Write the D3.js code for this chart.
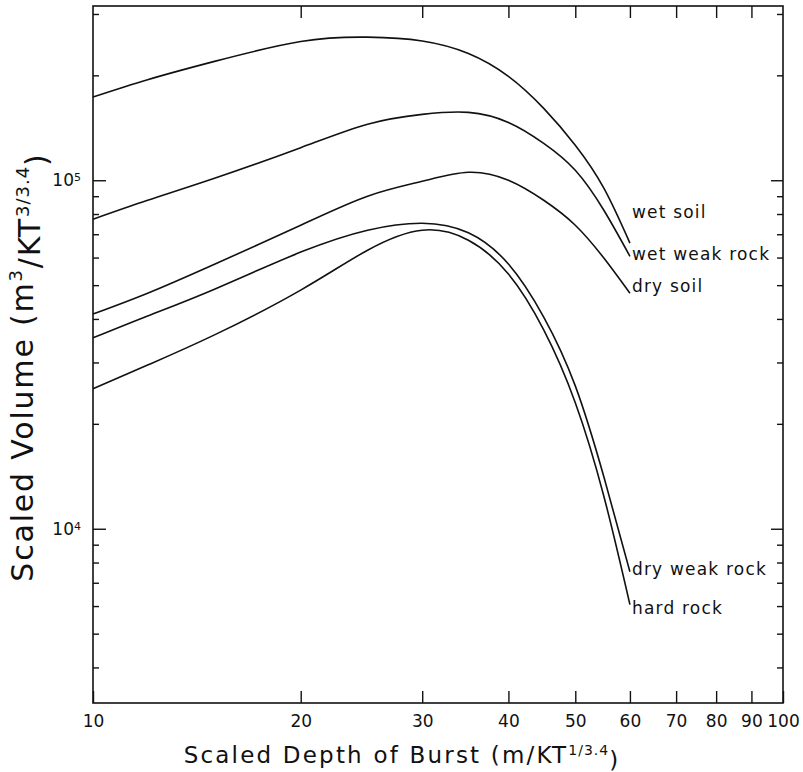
<!DOCTYPE html>
<meta charset="utf-8">
<head>
<script src="https://d3js.org/d3.v7.min.js"></script>
<style>
  body { margin: 0; background: #fff; }
  text { font-family: "DejaVu Sans", sans-serif; fill: #111; }
</style>
</head>
<body>
<svg id="chart" width="803" height="772"></svg>
<script>
// scaled depth of burst (m/KT^(1/3.4))
var depths = [10, 12, 15, 20, 25, 30, 35, 40, 45, 50, 55, 60];

// scaled crater volume (m^3/KT^(3/3.4))
var wetSoil      = [173300, 194300, 219300, 250000, 257400, 251000, 231100, 198700, 160800, 126000, 94900, 66000];
var wetWeakRock  = [77300, 87600, 101300, 124000, 144800, 154500, 156600, 146500, 127600, 106800, 82000, 60500];
var drySoil      = [41300, 47400, 57400, 74300, 90000, 99300, 105400, 100000, 87600, 74300, 59800, 47400];
var dryWeakRock  = [35300, 40800, 48700, 62200, 71900, 75300, 70700, 57500, 40500, 25700, 14100, 7530];
var hardRock     = [25200, 29500, 36000, 48400, 63000, 71900, 67300, 53800, 37200, 23000, 12400, 6060];

var seriesNames = ["wet soil", "wet weak rock", "dry soil", "dry weak rock", "hard rock"];
var seriesValues = [wetSoil, wetWeakRock, drySoil, dryWeakRock, hardRock];

var xTicks = [10, 20, 30, 40, 50, 60, 70, 80, 90, 100];
var yMajor = [1e4, 1e5];
var yMinor = [4e3, 5e3, 6e3, 7e3, 8e3, 9e3, 2e4, 3e4, 4e4, 5e4, 6e4, 7e4, 8e4, 9e4, 2e5, 3e5];

// label nudges (px) relative to each curve's end point
var labelDy = [-31, -2, -7, -3, 3];

var svg = d3.select("#chart");
var plotL = 93, plotR = 783, plotT = 6, plotB = 703;

var x = d3.scaleLog().domain([10, 100]).range([plotL, plotR]);
var y = d3.scaleLog().domain([Math.pow(10, 3.5), Math.pow(10, 5.5)]).range([plotB, plotT]);

function styleAxis(g) {
  g.select(".domain").remove();
  g.selectAll(".tick line").attr("stroke", "#111").attr("stroke-width", 1.4);
}

// bottom axis, ticks pointing in
svg.append("g")
  .attr("transform", "translate(0," + plotB + ")")
  .call(d3.axisBottom(x).tickValues(xTicks).tickSizeInner(-12).tickSizeOuter(0)
    .tickPadding(12).tickFormat(d3.format("d")))
  .call(styleAxis)
  .call(g => g.selectAll("text").attr("font-size", 17).attr("font-family", "DejaVu Sans").attr("fill", "#111"));

// top axis mirror
svg.append("g")
  .attr("transform", "translate(0," + plotT + ")")
  .call(d3.axisTop(x).tickValues(xTicks.slice(1, -1)).tickSizeInner(-12).tickSizeOuter(0).tickFormat(""))
  .call(styleAxis);

// left axis: major with labels, minor without
svg.append("g")
  .attr("transform", "translate(" + plotL + ",0)")
  .call(d3.axisLeft(y).tickValues(yMajor).tickSizeInner(-13).tickSizeOuter(0).tickPadding(12).tickFormat(""))
  .call(styleAxis)
  .call(g => g.selectAll(".tick text").each(function(d) {
    var t = d3.select(this).attr("font-size", 17).attr("font-family", "DejaVu Sans").attr("fill", "#111");
    t.append("tspan").text("10");
    t.append("tspan").attr("font-size", 11).attr("dy", "-0.45em").text(Math.round(Math.log10(d)));
  }));

svg.append("g")
  .attr("transform", "translate(" + plotL + ",0)")
  .call(d3.axisLeft(y).tickValues(yMinor).tickSizeInner(-6).tickSizeOuter(0).tickFormat(""))
  .call(styleAxis);

// right axis mirror
svg.append("g")
  .attr("transform", "translate(" + plotR + ",0)")
  .call(d3.axisRight(y).tickValues(yMajor).tickSizeInner(-12).tickSizeOuter(0).tickFormat(""))
  .call(styleAxis);
svg.append("g")
  .attr("transform", "translate(" + plotR + ",0)")
  .call(d3.axisRight(y).tickValues(yMinor).tickSizeInner(-6).tickSizeOuter(0).tickFormat(""))
  .call(styleAxis);

// frame
svg.append("rect")
  .attr("x", plotL).attr("y", plotT)
  .attr("width", plotR - plotL).attr("height", plotB - plotT)
  .attr("fill", "none").attr("stroke", "#111").attr("stroke-width", 1.6);

// curves
var line = d3.line()
  .x(function(d) { return x(d[0]); })
  .y(function(d) { return y(d[1]); })
  .curve(d3.curveNatural);

seriesValues.forEach(function(vals, i) {
  var pts = depths.map(function(d, j) { return [d, vals[j]]; });
  svg.append("path")
    .datum(pts)
    .attr("d", line)
    .attr("fill", "none")
    .attr("stroke", "#111")
    .attr("stroke-width", 1.6);

  var last = pts[pts.length - 1];
  svg.append("text")
    .attr("x", x(last[0]) + 2)
    .attr("y", y(last[1]) + labelDy[i])
    .attr("dy", "0.35em")
    .attr("font-size", 17)
    .attr("letter-spacing", 1.2)
    .text(seriesNames[i]);
});

// axis titles
var xt = svg.append("text")
  .attr("x", 402)
  .attr("y", 763)
  .attr("text-anchor", "middle")
  .attr("font-size", 23)
  .attr("letter-spacing", 2.2);
xt.append("tspan").text("Scaled Depth of Burst (m/KT");
xt.append("tspan").attr("font-size", 14).attr("letter-spacing", 1).attr("dy", "-0.6em").text("1/3.4");
xt.append("tspan").attr("dy", "0.6em").text(")");

var yt = svg.append("text")
  .attr("transform", "translate(33," + 367 + ") rotate(-90)")
  .attr("text-anchor", "middle")
  .attr("font-size", 30)
  .attr("letter-spacing", 1.8);
yt.append("tspan").text("Scaled Volume (m");
yt.append("tspan").attr("font-size", 18).attr("dy", "-0.6em").text("3");
yt.append("tspan").attr("dy", "0.6em").text("/KT");
yt.append("tspan").attr("font-size", 18).attr("letter-spacing", 1).attr("dy", "-0.6em").text("3/3.4");
yt.append("tspan").attr("dy", "0.6em").text(")");
</script>
</body>
